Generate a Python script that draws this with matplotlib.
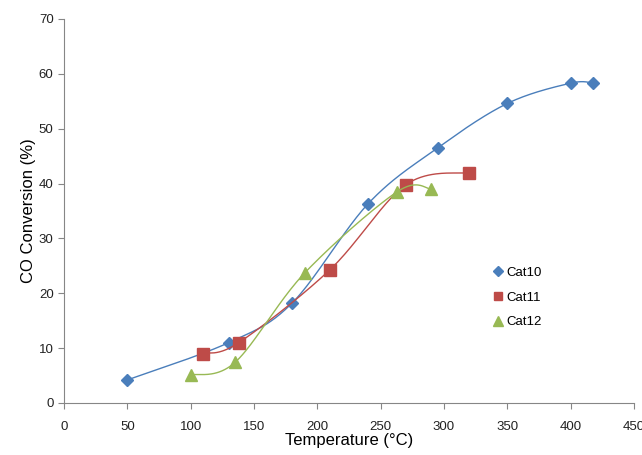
import numpy as np
import matplotlib.pyplot as plt

plt.rcParams['font.family'] = ['Liberation Sans', 'DejaVu Sans']

cat10_x = [50, 130, 180, 240, 295, 350, 400, 418]
cat10_y = [4.2, 11.0, 18.2, 36.3, 46.5, 54.6, 58.3, 58.3]
cat11_x = [110, 138, 210, 270, 320]
cat11_y = [9.0, 11.0, 24.3, 39.8, 42.0]
cat12_x = [100, 135, 190, 263, 290]
cat12_y = [5.1, 7.4, 23.7, 38.5, 39.0]


def smooth(xs, ys, n=40):
    # excel-style smoothed line: bezier segments, catmull-rom control points
    p = np.column_stack([xs, ys]).astype(float)
    p = np.vstack([p[0], p, p[-1]])
    out = []
    t = np.linspace(0, 1, n)[:, None]
    for i in range(1, len(p) - 2):
        p0, p1, p2, p3 = p[i - 1], p[i], p[i + 1], p[i + 2]
        c1 = p1 + (p2 - p0) / 6
        c2 = p2 - (p3 - p1) / 6
        seg = ((1 - t) ** 3 * p1 + 3 * (1 - t) ** 2 * t * c1
               + 3 * (1 - t) * t ** 2 * c2 + t ** 3 * p2)
        out.append(seg)
    s = np.vstack(out)
    return s[:, 0], s[:, 1]


fig = plt.figure(figsize=(6.42, 4.55), dpi=100)
ax = fig.add_axes([0.0997, 0.1143, 0.8878, 0.8440])

series = [
    (cat10_x, cat10_y, '#4A7EBB', 'D', 6.5, 'Cat10'),
    (cat11_x, cat11_y, '#BE4B48', 's', 8, 'Cat11'),
    (cat12_x, cat12_y, '#98B954', '^', 8.5, 'Cat12'),
]
for xs, ys, col, mk, ms, name in series:
    sx, sy = smooth(xs, ys)
    ax.plot(sx, sy, color=col, lw=1.0)
    ax.plot(xs, ys, mk, color=col, ms=ms, mec=col, label=name, linestyle='none')

ax.set_xlim(0, 450)
ax.set_ylim(0, 70)
ax.set_xticks(np.arange(0, 451, 50))
ax.set_yticks(np.arange(0, 71, 10))
for s in ['top', 'right']:
    ax.spines[s].set_visible(False)
for s in ['left', 'bottom']:
    ax.spines[s].set_color('#868686')
ax.tick_params(direction='out', length=4, color='#868686', labelsize=9.5,
               labelcolor='#222222')
ax.tick_params(axis='x', pad=9)
ax.set_xlabel('Temperature (°C)', fontsize=12, labelpad=0)
ax.set_ylabel('CO Conversion (%)', fontsize=12, labelpad=2)

leg = ax.legend(loc='upper left', bbox_to_anchor=(0.747, 0.44),
                bbox_transform=fig.transFigure, frameon=False, fontsize=9.5,
                handletextpad=0.1, labelspacing=0.95, handlelength=1.0,
                markerscale=0.8)

fig.savefig('out.png', dpi=100)
